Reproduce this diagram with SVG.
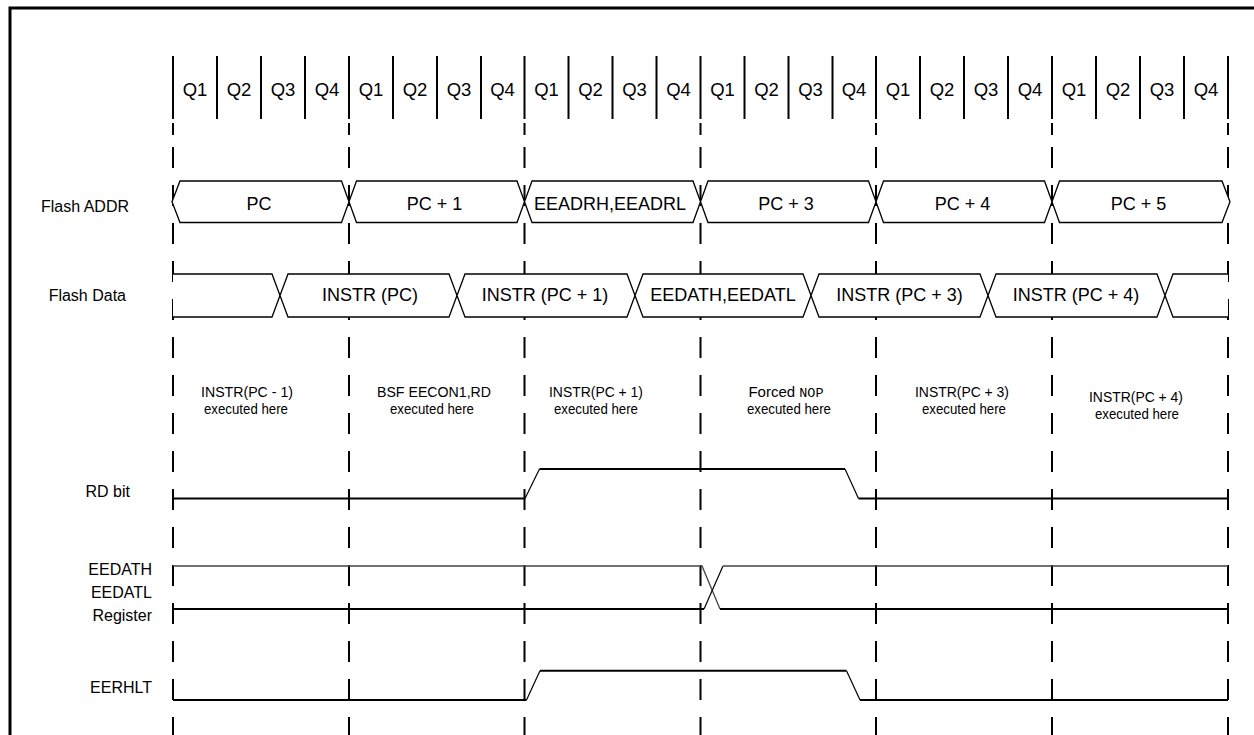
<svg xmlns="http://www.w3.org/2000/svg" width="1254" height="735" viewBox="0 0 1254 735">
<style>
.t{font-family:"Liberation Sans",Arial,sans-serif;fill:#000}
.q{font-size:18.5px;text-anchor:middle}
.b{font-size:18px;text-anchor:middle}
.lbl{font-size:16px;text-anchor:end}
.ex{font-size:15px;text-anchor:middle}
.mono{font-family:"Liberation Mono","Courier New",monospace;font-size:13.5px}
.ql{stroke:#000;stroke-width:2;fill:none}
.dash{stroke:#000;stroke-width:2;fill:none;stroke-dasharray:21 17}
.bus{stroke:#000;stroke-width:1.3;fill:#fff;stroke-linejoin:miter}
.sig{stroke:#000;stroke-width:2;fill:none}
.edge{stroke:#000;stroke-width:1.2;fill:none}
.thin{stroke:#444;stroke-width:1.3;fill:none}
</style>
<rect x="0" y="0" width="1254" height="735" fill="#fff"/>
<g id="frame">
<path d="M10 735 V8 H1254" stroke="#000" stroke-width="3" fill="none"/>
</g>

<g id="q-row">
<path class="ql" d="M173 56V119M217 56V119M261 56V119M305 56V119M349 56V119M393 56V119M437 56V119M481 56V119M524.5 56V119M568.5 56V119M612.5 56V119M656.5 56V119M700.5 56V119M744.5 56V119M788.5 56V119M832.5 56V119M876 56V119M920 56V119M964 56V119M1008 56V119M1052 56V119M1096 56V119M1140 56V119M1184 56V119M1228 56V119"/>
<g class="t q">
<text x="195" y="96">Q1</text><text x="239" y="96">Q2</text><text x="283" y="96">Q3</text><text x="327" y="96">Q4</text>
<text x="371" y="96">Q1</text><text x="415" y="96">Q2</text><text x="459" y="96">Q3</text><text x="502.5" y="96">Q4</text>
<text x="546.5" y="96">Q1</text><text x="590.5" y="96">Q2</text><text x="634.5" y="96">Q3</text><text x="678.5" y="96">Q4</text>
<text x="722.5" y="96">Q1</text><text x="766.5" y="96">Q2</text><text x="810.5" y="96">Q3</text><text x="854" y="96">Q4</text>
<text x="898" y="96">Q1</text><text x="942" y="96">Q2</text><text x="986" y="96">Q3</text><text x="1030" y="96">Q4</text>
<text x="1074" y="96">Q1</text><text x="1118" y="96">Q2</text><text x="1162" y="96">Q3</text><text x="1206" y="96">Q4</text>
</g>
</g>

<g id="connectors">
<path class="ql" d="M173 123V135M349 123V135M524.5 123V135M700.5 123V135M876 123V135M1052 123V135M1228 123V135"/>
<path class="dash" d="M173 147V735M349 147V735M524.5 147V735M700.5 147V735M876 147V735M1052 147V735M1228 147V735"/>
</g>

<g id="flash-addr">
<text class="t lbl" x="129" y="212">Flash ADDR</text>
<polygon class="bus" points="172,201.7 180,181 341.5,181 349,201.7 341.5,222.5 180,222.5"/>
<polygon class="bus" points="349,201.7 356.5,181 517,181 524.5,201.7 517,222.5 356.5,222.5"/>
<polygon class="bus" points="524.5,201.7 532,181 693,181 700.5,201.7 693,222.5 532,222.5"/>
<polygon class="bus" points="700.5,201.7 708,181 868.5,181 876,201.7 868.5,222.5 708,222.5"/>
<polygon class="bus" points="876,201.7 883.5,181 1044.5,181 1052,201.7 1044.5,222.5 883.5,222.5"/>
<polygon class="bus" points="1052,201.7 1059.5,181 1222,181 1230,201.7 1222,222.5 1059.5,222.5"/>
<g class="t b">
<text x="259" y="210">PC</text>
<text x="434.5" y="210">PC + 1</text>
<text x="610" y="210">EEADRH,EEADRL</text>
<text x="786" y="210">PC + 3</text>
<text x="962.5" y="210">PC + 4</text>
<text x="1138.5" y="210">PC + 5</text>
</g>
</g>

<g id="flash-data">
<text class="t lbl" x="126" y="301">Flash Data</text>
<path class="bus" fill="none" d="M173 274H272L280 295.5L272 317H173"/>
<polygon class="bus" points="280,295.5 288,274 449,274 457,295.5 449,317 288,317"/>
<polygon class="bus" points="457,295.5 465,274 627,274 635,295.5 627,317 465,317"/>
<polygon class="bus" points="635,295.5 643,274 803,274 811,295.5 803,317 643,317"/>
<polygon class="bus" points="811,295.5 819,274 980,274 988,295.5 980,317 819,317"/>
<polygon class="bus" points="988,295.5 996,274 1157,274 1165,295.5 1157,317 996,317"/>
<path class="bus" fill="none" d="M1228 274H1173L1165 295.5L1173 317H1228"/>
<g class="t b">
<text x="370" y="301">INSTR (PC)</text>
<text x="545" y="301">INSTR (PC + 1)</text>
<text x="723" y="301">EEDATH,EEDATL</text>
<text x="899.5" y="301">INSTR (PC + 3)</text>
<text x="1076" y="301">INSTR (PC + 4)</text>
</g>
</g>

<g id="executed">
<g class="t ex">
<text x="247" y="397" textLength="92" lengthAdjust="spacingAndGlyphs">INSTR(PC - 1)</text><text x="246" y="414" textLength="84" lengthAdjust="spacingAndGlyphs">executed here</text>
<text x="434" y="397" textLength="114" lengthAdjust="spacingAndGlyphs">BSF EECON1,RD</text><text x="432" y="414" textLength="84" lengthAdjust="spacingAndGlyphs">executed here</text>
<text x="596" y="397" textLength="94" lengthAdjust="spacingAndGlyphs">INSTR(PC + 1)</text><text x="596" y="414" textLength="84" lengthAdjust="spacingAndGlyphs">executed here</text>
<text x="786" y="397">Forced <tspan class="mono">NOP</tspan></text><text x="789" y="414" textLength="84" lengthAdjust="spacingAndGlyphs">executed here</text>
<text x="962" y="397" textLength="94" lengthAdjust="spacingAndGlyphs">INSTR(PC + 3)</text><text x="964" y="414" textLength="84" lengthAdjust="spacingAndGlyphs">executed here</text>
<text x="1136" y="402" textLength="94" lengthAdjust="spacingAndGlyphs">INSTR(PC + 4)</text><text x="1137" y="419" textLength="84" lengthAdjust="spacingAndGlyphs">executed here</text>
</g>
</g>

<g id="rd-bit">
<text class="t lbl" x="130" y="497">RD bit</text>
<path class="sig" d="M173 498.5H525"/>
<path class="edge" d="M525 498.5L539.5 469"/>
<path class="sig" d="M539.5 469H845"/>
<path class="edge" d="M845 469L858.5 498.5"/>
<path class="sig" d="M858.5 498.5H1228"/>
</g>

<g id="eedat-register">
<text class="t lbl" x="152" y="575">EEDATH</text>
<text class="t lbl" x="152" y="598">EEDATL</text>
<text class="t lbl" x="152" y="621">Register</text>
<path class="thin" d="M173 566H702L720 609"/>
<path class="sig" d="M173 609H704"/>
<path class="edge" d="M704 609L723 566"/>
<path class="thin" d="M723 566H1228"/>
<path class="sig" d="M720 609H1228"/>
</g>

<g id="eerhlt">
<text class="t lbl" x="152" y="693">EERHLT</text>
<path class="sig" d="M173 700H526.5"/>
<path class="edge" d="M526.5 700L540 670.7"/>
<path class="sig" d="M540 670.7H846.5"/>
<path class="edge" d="M846.5 670.7L860 700"/>
<path class="sig" d="M860 700H1228"/>
</g>
</svg>
